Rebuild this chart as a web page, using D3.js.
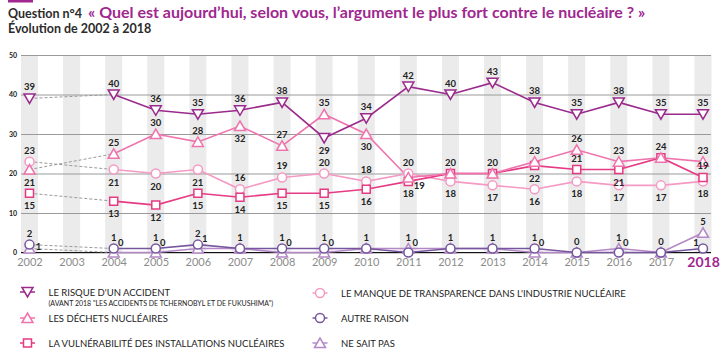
<!DOCTYPE html>
<html>
<head>
<meta charset="utf-8">
<script src="https://cdn.jsdelivr.net/npm/d3@7"></script>
<style>
  body { margin: 0; background: #fff; }
  svg text { font-family: "Lato", "Open Sans", sans-serif; }
</style>
</head>
<body>
<div id="chart-area"></div>
<script>
// years, 2003 has no survey
var years = [2002, 2003, 2004, 2005, 2006, 2007, 2008, 2009, 2010, 2011, 2012, 2013, 2014, 2015, 2016, 2017, 2018];
var yTicks = [0, 10, 20, 30, 40, 50];

var risque        = [39, null, 40, 36, 35, 36, 38, 29, 34, 42, 40, 43, 38, 35, 38, 35, 35];
var dechets       = [21, null, 25, 30, 28, 32, 27, 35, 30, 19, 20, 20, 23, 26, 23, 24, 23];
var vulnerabilite = [15, null, 13, 12, 15, 14, 15, 15, 16, 18, 20, 20, 22, 21, 21, 24, 19];
var transparence  = [23, null, 21, 20, 21, 16, 19, 20, 18, 20, 18, 17, 16, 18, 17, 17, 18];
var autreRaison   = [2, null, 1, 1, 2, 1, 1, 1, 1, 0, 1, 1, 1, 0, 0, 0, 1];
var nsp           = [1, null, 0, 0, 1, 1, 0, 0, 1, 1, 1, 1, 0, 0, 1, 0, 5];

// where each value label goes: a above, b below, r right-up, s side, d right-down, l left, x none
var labelPlace = {
  risque:        "a-aaaaabaaaaaaaaa",
  dechets:       "b-aaabaabdaaaaaaa",
  vulnerabilite: "b-bbbbbbbbxxbabxa",
  transparence:  "a-bbbaaaaabbbbbbb",
  autreRaison:   "a-aaaaaaaraaaaral",
  nsp:           "s-rrrxrrxaxxrxaxa"
};

var series = [
  { key: "risque", values: risque, color: "#9b2a8d", shape: "down",
    label: "LE RISQUE D'UN ACCIDENT", sub: "(AVANT 2018 \"LES ACCIDENTS DE TCHERNOBYL ET DE FUKUSHIMA\")" },
  { key: "dechets", values: dechets, color: "#ef74ad", shape: "up", label: "LES DÉCHETS NUCLÉAIRES" },
  { key: "vulnerabilite", values: vulnerabilite, color: "#e63a84", shape: "square", label: "LA VULNÉRABILITÉ DES INSTALLATIONS NUCLÉAIRES" },
  { key: "transparence", values: transparence, color: "#f59ac4", shape: "circle", label: "LE MANQUE DE TRANSPARENCE DANS L'INDUSTRIE NUCLÉAIRE" },
  { key: "autreRaison", values: autreRaison, color: "#76579f", shape: "circle", label: "AUTRE RAISON" },
  { key: "nsp", values: nsp, color: "#b488c6", shape: "up", label: "NE SAIT PAS" }
];
// draw order: light ones first
var drawOrder = ["nsp", "autreRaison", "transparence", "vulnerabilite", "dechets", "risque"];

var W = 726, H = 358;
var svg = d3.select("#chart-area").append("svg")
    .attr("width", W).attr("height", H);

var x = d3.scaleLinear().domain([2002, 2018]).range([29.5, 703]);
var y = d3.scaleLinear().domain([0, 50]).range([252.5, 55]);
var plotLeft = 21, plotRight = 711;

// title
svg.append("rect").attr("x", 8).attr("y", 0).attr("width", 25).attr("height", 2.5).attr("fill", "#a0278f");
var title = svg.append("text").attr("x", 8).attr("y", 18);
title.append("tspan").text("Question n°4").attr("font-size", 12.5).attr("font-weight", 700).attr("fill", "#2b2b2b");
title.append("tspan").attr("x", 88).text("« Quel est aujourd’hui, selon vous, l’argument le plus fort contre le nucléaire ? »")
    .attr("font-size", 16).attr("font-weight", 700).attr("fill", "#a0278f");
svg.append("text").attr("x", 8).attr("y", 33).text("Évolution de 2002 à 2018")
    .attr("font-size", 12.5).attr("font-weight", 700).attr("fill", "#2b2b2b");

// column bands
svg.append("g").selectAll("rect").data(years).enter().append("rect")
    .attr("x", d => x(d) - 8.5).attr("width", 17)
    .attr("y", y(50)).attr("height", y(0) - y(50))
    .attr("fill", "#ebebeb");

// grid + y labels
var yAxis = d3.axisLeft(y).tickValues(yTicks).tickSize(plotLeft - plotRight).tickPadding(4);
var gy = svg.append("g").attr("transform", "translate(" + plotLeft + ",0)").call(yAxis);
gy.select(".domain").remove();
gy.selectAll(".tick line").attr("stroke", "#9a9a9a").attr("stroke-width", 1);
gy.selectAll(".tick text").attr("font-size", 7).attr("font-weight", 700).attr("fill", "#222")
    .attr("font-family", "Lato, sans-serif");
svg.append("line").attr("x1", plotLeft).attr("x2", plotRight).attr("y1", y(0)).attr("y2", y(0))
    .attr("stroke", "#111").attr("stroke-width", 1.2);

// x labels
var xAxis = d3.axisBottom(x).tickValues(years).tickSize(0).tickPadding(6).tickFormat(d3.format("d"));
var gx = svg.append("g").attr("transform", "translate(0," + y(0) + ")").call(xAxis);
gx.select(".domain").remove();
gx.selectAll(".tick text").attr("font-size", 11).attr("fill", "#8c8c8c").attr("font-family", "Lato, sans-serif");
gx.selectAll(".tick").filter(d => d === 2018).select("text")
    .attr("font-size", 14).attr("font-weight", 700).attr("fill", "#a0278f").attr("dy", "0.62em");

function symbolPath(shape) {
  if (shape === "down") return "M-5.5,-4.5L5.5,-4.5L0,5z";
  if (shape === "up") return "M-5.5,4.5L5.5,4.5L0,-5z";
  if (shape === "square") return "M-4,-4H4V4H-4z";
  return d3.arc()({ innerRadius: 0, outerRadius: 4.5, startAngle: 0, endAngle: 2 * Math.PI });
}

var byKey = {};
series.forEach(s => byKey[s.key] = s);

var line = d3.line().defined(d => d.v != null).x(d => x(d.year)).y(d => y(d.v));

// dashed link 2002 -> 2004
var gLines = svg.append("g"), gMarks = svg.append("g"), gLabels = svg.append("g");
drawOrder.forEach(k => {
  var s = byKey[k];
  var pts = years.map((yr, i) => ({ year: yr, v: s.values[i], place: labelPlace[k][i] }));
  var first = pts[0], next = pts[2];
  gLines.append("line")
      .attr("x1", x(first.year)).attr("y1", y(first.v))
      .attr("x2", x(next.year)).attr("y2", y(next.v))
      .attr("stroke", "#9a9a9a").attr("stroke-width", 1).attr("stroke-dasharray", "3,2");
  gLines.append("path").datum(pts.slice(2))
      .attr("d", line).attr("fill", "none").attr("stroke", s.color).attr("stroke-width", 1.6);
  gMarks.selectAll(null).data(pts.filter(p => p.v != null)).enter().append("path")
      .attr("transform", p => "translate(" + x(p.year) + "," + y(p.v) + ")")
      .attr("d", symbolPath(s.shape))
      .attr("fill", "#fff").attr("stroke", s.color).attr("stroke-width", 1.5);
  var offs = { a: [0, -8], b: [0, 16], r: [7, -7], s: [9, 1], d: [11, 12], l: [-7, -3] };
  gLabels.selectAll(null).data(pts.filter(p => p.v != null && p.place !== "x")).enter().append("text")
      .attr("x", p => x(p.year) + offs[p.place][0])
      .attr("y", p => y(p.v) + offs[p.place][1])
      .attr("text-anchor", "middle")
      .attr("font-size", 9.5).attr("font-weight", 700).attr("fill", "#222")
      .text(p => p.v);
});

// legend
var legendPos = {
  risque: [27.5, 292], dechets: [27.5, 318], vulnerabilite: [27.5, 343],
  transparence: [320, 293], autreRaison: [320, 318], nsp: [320, 343]
};
series.forEach(s => {
  var p = legendPos[s.key];
  var g = svg.append("g").attr("transform", "translate(" + p[0] + "," + p[1] + ")");
  g.append("line").attr("x1", -7.5).attr("x2", 7.5).attr("stroke", s.color).attr("stroke-width", 1.5);
  g.append("path").attr("d", symbolPath(s.shape)).attr("fill", "#fff").attr("stroke", s.color).attr("stroke-width", 1.5);
  g.append("text").attr("x", 21).attr("y", 3.5).text(s.label)
      .attr("font-size", 9.5).attr("fill", "#222");
  if (s.sub) g.append("text").attr("x", 21).attr("y", 14).text(s.sub)
      .attr("font-size", 7).attr("fill", "#222");
});
</script>
</body>
</html>
